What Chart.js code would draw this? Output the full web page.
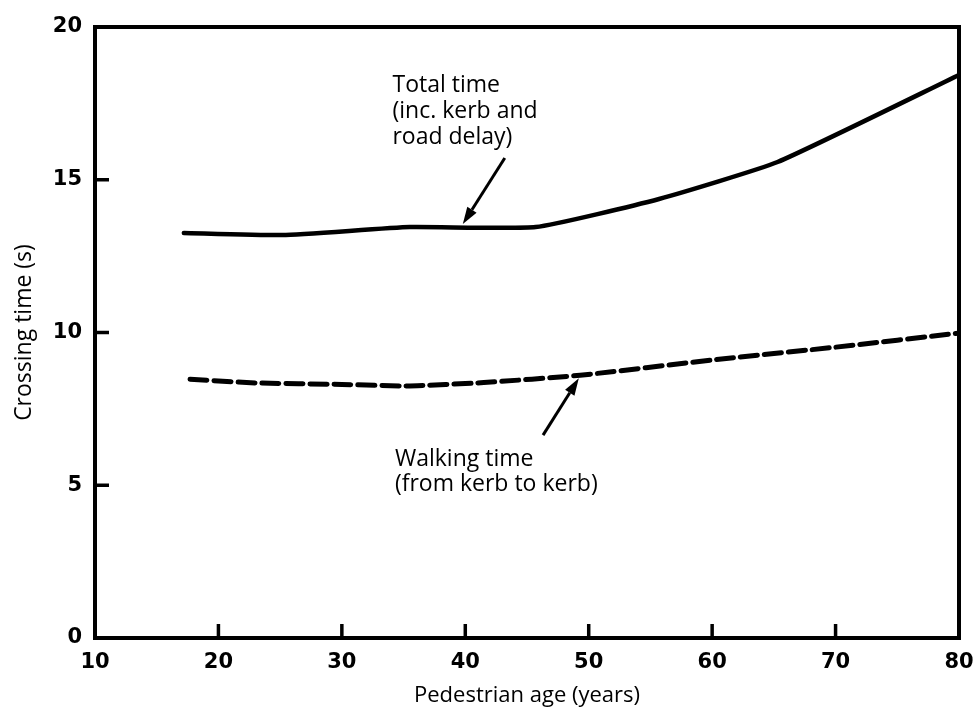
<!DOCTYPE html>
<html>
<head>
<meta charset="utf-8">
<script src="https://cdn.jsdelivr.net/npm/chart.js@4"></script>
<style>
  html, body { margin: 0; padding: 0; background: #fff; }
  #wrap { width: 978px; height: 718px; }
</style>
</head>
<body>
<div id="wrap"><canvas id="c" width="978" height="718"></canvas></div>
<script>
// ---- data ----
const totalAge  = [17.2, 25.2, 35.5, 45.7, 55.7, 65.3, 80];
const totalTime = [13.26, 13.19, 13.45, 13.45, 14.37, 15.58, 18.43];
const walkAge   = [17.7, 23, 30, 35.3, 41.5, 49.3, 60, 70, 80];
const walkTime  = [8.47, 8.35, 8.3, 8.25, 8.36, 8.6, 9.1, 9.52, 9.98];
const xTicks = [10, 20, 30, 40, 50, 60, 70, 80];
const yTicks = [0, 5, 10, 15, 20];
const totalLabel = ["Total time", "(inc. kerb and", "road delay)"];
const walkLabel  = ["Walking time", "(from kerb to kerb)"];
const xTitle = "Pedestrian age (years)";
const yTitle = "Crossing time (s)";

const FONT = "'Open Sans', sans-serif";
const TICKFONT = "'DejaVu Sans', sans-serif";

function pts(xs, ys) { return xs.map((x, i) => ({ x: x, y: ys[i] })); }

function arrow(ctx, x0, y0, x1, y1) {
  const ang = Math.atan2(y1 - y0, x1 - x0);
  const L = 17, W = 5.5;
  const bx = x1 - L * Math.cos(ang), by = y1 - L * Math.sin(ang);
  ctx.beginPath();
  ctx.moveTo(x0, y0); ctx.lineTo(bx, by);
  ctx.lineWidth = 3; ctx.stroke();
  ctx.beginPath();
  ctx.moveTo(x1, y1);
  ctx.lineTo(bx + W * Math.sin(ang), by - W * Math.cos(ang));
  ctx.lineTo(bx - W * Math.sin(ang), by + W * Math.cos(ang));
  ctx.closePath(); ctx.fill();
}

const framePlugin = {
  id: 'frameTicksNotes',
  afterDraw(chart) {
    const ctx = chart.ctx, a = chart.chartArea;
    const xs = chart.scales.x, ys = chart.scales.y;
    ctx.save();
    ctx.strokeStyle = '#000'; ctx.fillStyle = '#000';
    ctx.lineCap = 'butt';
    ctx.lineWidth = 4;
    ctx.strokeRect(a.left, a.top, a.right - a.left, a.bottom - a.top);
    // inward tick marks
    ctx.lineWidth = 3.5;
    yTicks.slice(1, -1).forEach(v => {
      const p = ys.getPixelForValue(v);
      ctx.beginPath(); ctx.moveTo(a.left, p); ctx.lineTo(a.left + 14, p); ctx.stroke();
    });
    xTicks.slice(1, -1).forEach(v => {
      const p = xs.getPixelForValue(v);
      ctx.beginPath(); ctx.moveTo(p, a.bottom); ctx.lineTo(p, a.bottom - 14); ctx.stroke();
    });
    // annotations
    ctx.font = "23px " + FONT;
    ctx.textAlign = 'left'; ctx.textBaseline = 'middle';
    const tx = xs.getPixelForValue(34.1), ty = ys.getPixelForValue(18.1);
    totalLabel.forEach((s, i) => ctx.fillText(s, tx, ty + i * 26));
    const wx = xs.getPixelForValue(34.3), wy = ys.getPixelForValue(5.83);
    walkLabel.forEach((s, i) => ctx.fillText(s, wx, wy + i * 25));
    arrow(ctx, xs.getPixelForValue(43.2), ys.getPixelForValue(15.71),
               xs.getPixelForValue(39.8), ys.getPixelForValue(13.55));
    arrow(ctx, xs.getPixelForValue(46.3), ys.getPixelForValue(6.64),
               xs.getPixelForValue(49.2), ys.getPixelForValue(8.5));
    ctx.restore();
  }
};

new Chart(document.getElementById('c'), {
  type: 'scatter',
  data: {
    datasets: [
      { label: 'Total time', data: pts(totalAge, totalTime), showLine: true,
        borderColor: '#000', borderWidth: 4.5, pointRadius: 0, tension: 0.15,
        borderCapStyle: 'round', borderJoinStyle: 'round' },
      { label: 'Walking time', data: pts(walkAge, walkTime), showLine: true,
        borderColor: '#000', borderWidth: 5, pointRadius: 0, tension: 0.15,
        borderDash: [17, 7], borderCapStyle: 'round' }
    ]
  },
  options: {
    responsive: false,
    animation: false,
    devicePixelRatio: 1,
    layout: { padding: { top: 27, right: 19, left: 0, bottom: 0 } },
    plugins: { legend: { display: false }, tooltip: { enabled: false } },
    scales: {
      x: {
        type: 'linear', min: 10, max: 80,
        afterFit(s) { s.height = 80; s.paddingLeft = 0; s.paddingRight = 0; },
        afterBuildTicks(s) { s.ticks = xTicks.map(v => ({ value: v })); },
        grid: { display: false, drawTicks: false },
        border: { display: false },
        ticks: { color: '#000', padding: 12, maxRotation: 0,
                 font: { family: TICKFONT, size: 21, weight: 'bold' } },
        title: { display: true, text: xTitle, color: '#000',
                 font: { family: FONT, size: 22 }, padding: { top: 0, bottom: 9 } }
      },
      y: {
        type: 'linear', min: 0, max: 20,
        afterFit(s) { s.width = 95; s.paddingTop = 0; s.paddingBottom = 0; },
        afterBuildTicks(s) { s.ticks = yTicks.map(v => ({ value: v })); },
        grid: { display: false, drawTicks: false },
        border: { display: false },
        ticks: { color: '#000', padding: 13,
                 font: { family: TICKFONT, size: 21, weight: 'bold' } },
        title: { display: true, text: yTitle, color: '#000',
                 font: { family: FONT, size: 23 }, padding: { top: 11, bottom: 0 } }
      }
    }
  },
  plugins: [framePlugin]
});
</script>
</body>
</html>
